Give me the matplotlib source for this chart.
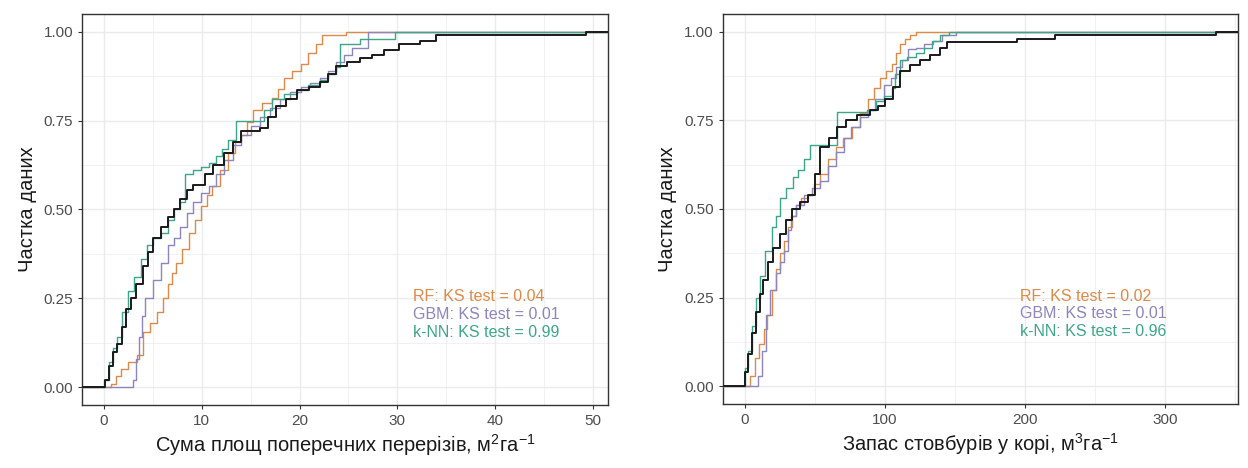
import numpy as np
import matplotlib
matplotlib.use("Agg")
import matplotlib.pyplot as plt
from matplotlib.ticker import MultipleLocator

plt.rcParams['font.family'] = ['Liberation Sans', 'DejaVu Sans']
plt.rcParams['mathtext.fontset'] = 'custom'
plt.rcParams['mathtext.rm'] = 'Liberation Sans'
plt.rcParams['mathtext.it'] = 'Liberation Sans'

# ---- Панель 1: сума площ поперечних перерізів (точки зламу ECDF) ----
obs1_x = [-3, 0.1, 0.5, 0.9, 1.3, 1.8, 2.3, 2.75, 3.3, 4.0, 4.5, 5.0, 5.8, 6.6, 7.2, 7.8, 8.5, 9.1, 10.3, 11.2,
          12.3, 13.2, 14.0, 16.0, 16.8, 17.6, 18.6, 19.7, 21.0, 22.1, 22.9, 23.7, 24.8, 26.2, 27.4, 28.6, 30.2,
          32.3, 33.9, 49.3, 53]
obs1_y = [0, 0.02, 0.06, 0.10, 0.12, 0.17, 0.22, 0.25, 0.29, 0.34, 0.38, 0.42, 0.45, 0.48, 0.50, 0.53, 0.555,
          0.57, 0.60, 0.625, 0.66, 0.69, 0.72, 0.73, 0.76, 0.79, 0.81, 0.835, 0.845, 0.86, 0.88, 0.905, 0.915,
          0.925, 0.935, 0.95, 0.965, 0.975, 0.99, 1.0, 1.0]

rf1_x = [-3, 0.7, 1.2, 1.7, 2.5, 3.4, 4.0, 4.7, 5.4, 6.0, 6.6, 7.0, 7.4, 8.0, 8.7, 9.3, 9.9, 10.5, 11.1, 11.9,
         12.7, 13.4, 14.0, 14.6, 15.2, 16.2, 17.2, 17.8, 18.4, 19.2, 20.1, 20.9, 21.7, 22.3, 24.7, 53]
rf1_y = [0, 0.01, 0.03, 0.05, 0.07, 0.09, 0.155, 0.18, 0.21, 0.25, 0.29, 0.32, 0.35, 0.39, 0.435, 0.47, 0.51,
         0.54, 0.565, 0.61, 0.66, 0.69, 0.71, 0.745, 0.78, 0.80, 0.815, 0.84, 0.87, 0.89, 0.91, 0.94, 0.965,
         0.99, 1.0, 1.0]

gbm1_x = [-3, 3.0, 3.3, 3.6, 3.9, 4.2, 5.0, 5.8, 6.6, 7.2, 7.8, 8.5, 9.1, 9.9, 10.7, 11.5, 12.3, 13.2, 14.0,
          15.0, 16.0, 17.0, 18.0, 19.0, 20.1, 21.1, 22.1, 22.9, 23.7, 24.5, 25.4, 27.0, 53]
gbm1_y = [0, 0.02, 0.08, 0.14, 0.20, 0.25, 0.30, 0.35, 0.40, 0.42, 0.45, 0.49, 0.52, 0.545, 0.565, 0.60, 0.64,
          0.68, 0.71, 0.735, 0.76, 0.785, 0.81, 0.83, 0.845, 0.855, 0.87, 0.89, 0.915, 0.935, 0.955, 1.0, 1.0]

knn1_x = [-3, 0.0, 0.5, 0.9, 1.3, 1.9, 2.5, 3.1, 3.8, 4.4, 5.0, 5.8, 6.6, 7.2, 7.8, 8.3, 9.1, 9.9, 10.7, 11.5,
          12.1, 12.7, 13.5, 15.6, 16.4, 17.2, 18.4, 19.7, 20.9, 22.1, 22.9, 23.7, 24.1, 26.2, 29.8, 53]
knn1_y = [0, 0.02, 0.07, 0.11, 0.14, 0.21, 0.27, 0.31, 0.36, 0.40, 0.42, 0.435, 0.47, 0.50, 0.52, 0.60, 0.61,
          0.62, 0.63, 0.65, 0.67, 0.695, 0.75, 0.75, 0.78, 0.81, 0.825, 0.835, 0.85, 0.865, 0.88, 0.90, 0.965,
          0.98, 1.0, 1.0]

# ---- Панель 2: запас стовбурів у корі ----
obs2_x = [-20, 0, 2, 5, 8, 10.7, 13, 16.4, 20, 25, 29, 33.6, 39, 45, 50, 53.6, 60, 65.5, 72, 80, 89, 95, 100,
          106, 111, 118, 125, 132, 139, 144, 194, 221, 336, 360]
obs2_y = [0, 0.04, 0.09, 0.15, 0.21, 0.26, 0.30, 0.35, 0.39, 0.43, 0.47, 0.50, 0.52, 0.54, 0.60, 0.675, 0.70,
          0.73, 0.75, 0.765, 0.78, 0.79, 0.81, 0.845, 0.89, 0.905, 0.92, 0.935, 0.955, 0.97, 0.98, 0.99, 1.0, 1.0]

rf2_x = [-20, 3.5, 7, 10, 13.6, 15.7, 19.3, 22, 25, 28, 30.7, 33.5, 36.4, 40, 45, 49, 53.6, 59, 65, 70, 76.4,
         82, 87.9, 92, 96.4, 101, 105, 108, 110.7, 114, 118, 122, 360]
rf2_y = [0, 0.03, 0.08, 0.12, 0.16, 0.20, 0.27, 0.33, 0.375, 0.41, 0.45, 0.48, 0.51, 0.53, 0.54, 0.57, 0.60,
         0.64, 0.675, 0.70, 0.73, 0.77, 0.81, 0.84, 0.87, 0.89, 0.91, 0.94, 0.965, 0.98, 0.99, 1.0, 1.0]

gbm2_x = [-20, 9.5, 12, 15, 18, 22, 25, 28, 31, 33, 36.4, 42, 48, 53.6, 59, 65, 70.7, 76, 82, 87.9, 93, 99.3,
          104, 107.9, 112, 116.4, 122, 127.9, 134, 141, 150.7, 360]
gbm2_y = [0, 0.03, 0.10, 0.20, 0.27, 0.32, 0.35, 0.38, 0.44, 0.48, 0.51, 0.54, 0.56, 0.58, 0.62, 0.66, 0.70,
          0.73, 0.76, 0.78, 0.81, 0.85, 0.87, 0.90, 0.92, 0.95, 0.955, 0.965, 0.975, 0.99, 1.0, 1.0]

knn2_x = [-20, 0, 2, 5, 8, 10.7, 14, 19.3, 22, 25, 29, 34, 38, 42, 46.4, 65.5, 87, 93.6, 99, 105, 107, 110.7,
          116, 122, 128, 133.6, 139.3, 146, 360]
knn2_y = [0, 0.05, 0.10, 0.17, 0.25, 0.31, 0.38, 0.45, 0.48, 0.53, 0.56, 0.59, 0.61, 0.64, 0.68, 0.775, 0.78,
          0.805, 0.82, 0.84, 0.88, 0.92, 0.93, 0.94, 0.955, 0.975, 0.99, 1.0, 1.0]

ks_labels_1 = ["RF: KS test = 0.04", "GBM: KS test = 0.01", "k-NN: KS test = 0.99"]
ks_labels_2 = ["RF: KS test = 0.02", "GBM: KS test = 0.01", "k-NN: KS test = 0.96"]

c_obs = "#1a1a1a"
c_rf = "#DA8A4A"
c_gbm = "#8C86BC"
c_knn = "#3FA58A"
model_colors = [c_rf, c_gbm, c_knn]

fig = plt.figure(figsize=(12.48, 4.68), dpi=100)
ax1 = fig.add_axes([0.066, 0.135, 0.421, 0.835])
ax2 = fig.add_axes([0.579, 0.137, 0.413, 0.833])


def ecdf_panel(ax, series, xlim, xmajor, xminor, xlabel, labels, text_x):
    ax.set_facecolor("white")
    for (x, y, col, lw, z) in series:
        ax.step(x, y, where="post", color=col, lw=lw, zorder=z)
    ax.set_xlim(*xlim)
    ax.set_ylim(-0.05, 1.05)
    ax.xaxis.set_major_locator(MultipleLocator(xmajor))
    ax.xaxis.set_minor_locator(MultipleLocator(xminor))
    ax.yaxis.set_major_locator(MultipleLocator(0.25))
    ax.yaxis.set_minor_locator(MultipleLocator(0.125))
    ax.yaxis.set_major_formatter(plt.FuncFormatter(lambda v, p: f"{v:.2f}"))
    ax.grid(True, which="major", color="#ebebeb", lw=1.0, zorder=0)
    ax.grid(True, which="minor", color="#ebebeb", lw=0.5, zorder=0)
    ax.set_axisbelow(True)
    for s in ax.spines.values():
        s.set_color("#333333")
        s.set_linewidth(1.0)
    ax.tick_params(axis="both", which="major", length=3, color="#333333", labelcolor="#4d4d4d", labelsize=11)
    ax.tick_params(axis="both", which="minor", length=0)
    ax.set_xlabel(xlabel, fontsize=14.5, color="#1a1a1a", labelpad=3)
    ax.set_ylabel("Частка даних", fontsize=14.5, color="#1a1a1a", labelpad=5)
    for i, (lab, col) in enumerate(zip(labels, model_colors)):
        ax.text(text_x, 0.254 - 0.05 * i, lab, color=col, fontsize=11.5, ha="left", va="center")


ecdf_panel(ax1,
           [(obs1_x, obs1_y, c_obs, 1.4, 5), (rf1_x, rf1_y, c_rf, 1.0, 3),
            (gbm1_x, gbm1_y, c_gbm, 1.0, 3), (knn1_x, knn1_y, c_knn, 1.0, 4)],
           (-2.2, 51.5), 10, 5, "Сума площ поперечних перерізів, м$^2$га$^{-1}$", ks_labels_1, 31.6)

ecdf_panel(ax2,
           [(obs2_x, obs2_y, c_obs, 1.4, 5), (rf2_x, rf2_y, c_rf, 1.0, 3),
            (gbm2_x, gbm2_y, c_gbm, 1.0, 3), (knn2_x, knn2_y, c_knn, 1.0, 4)],
           (-16, 352), 100, 50, "Запас стовбурів у корі, м$^3$га$^{-1}$", ks_labels_2, 196)

fig.savefig("out.png", dpi=100)
